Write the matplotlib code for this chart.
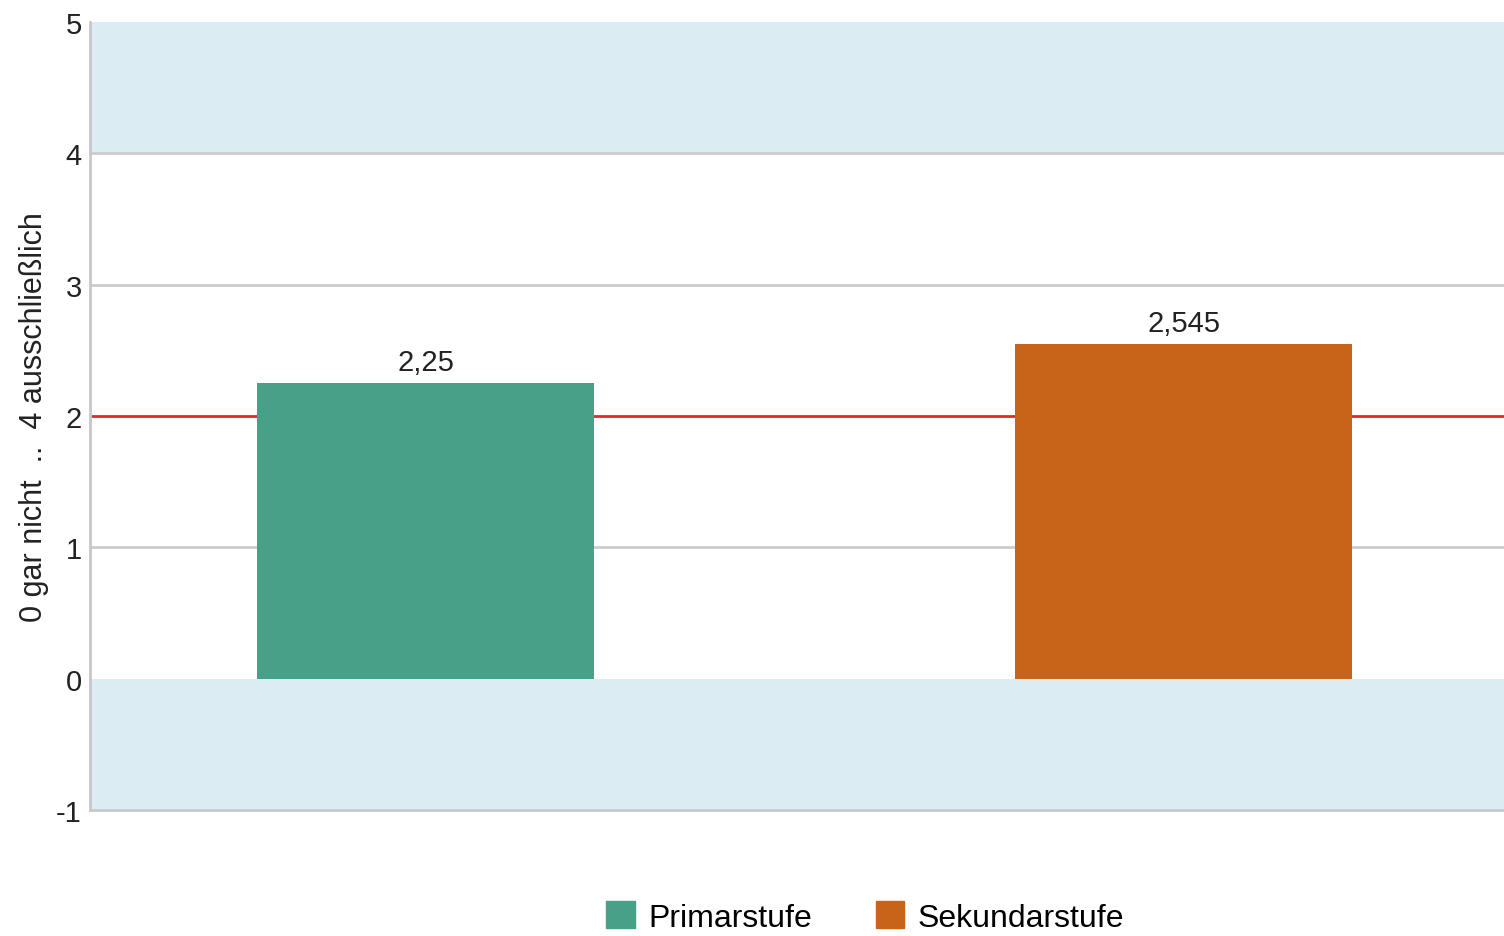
import matplotlib
matplotlib.use('Agg')
import matplotlib.pyplot as plt
import matplotlib.patches as mpatches

plt.rcParams['font.family'] = ['Liberation Sans', 'DejaVu Sans']

categories = ['Primarstufe', 'Sekundarstufe']
values = [2.25, 2.545]
value_labels = ['2,25', '2,545']
colors = ['#48a088', '#c86419']
yticks = [-1, 0, 1, 2, 3, 4, 5]
ref_line = 2
bands = [(4, 5), (-1, 0)]

BAND = '#dbecf2'
GRID = '#cccccc'
TXT = '#222222'

fig = plt.figure(figsize=(15.04, 9.37), dpi=100)
ax = fig.add_axes([90 / 1504, 1 - 811 / 937, 1 - 90 / 1504, (811 - 23) / 937])

for lo, hi in bands:
    ax.axhspan(lo, hi, color=BAND, lw=0, zorder=0)
for y in [1, 3, 4]:
    ax.axhline(y, color=GRID, lw=2, zorder=1)
ax.axhline(ref_line, color='#e8262a', lw=2, zorder=1)

x = list(range(len(categories)))
bars = ax.bar(x, values, width=0.4446, color=colors, zorder=2)
for b, lab in zip(bars, value_labels):
    ax.annotate(lab, (b.get_x() + b.get_width() / 2, b.get_height()),
                xytext=(0, 5), textcoords='offset points',
                ha='center', va='bottom', fontsize=21, color=TXT)

ax.set_xlim(-0.4426, 1.4228)
ax.set_ylim(-1, 5)
ax.set_yticks(yticks)
ax.set_yticklabels([str(t) for t in yticks], fontsize=21, color=TXT)
ax.set_xticks([])
ax.tick_params(axis='y', length=0, pad=6)
for s in ['top', 'right']:
    ax.spines[s].set_visible(False)
for s in ['left', 'bottom']:
    ax.spines[s].set_color('#c8c8c8')
    ax.spines[s].set_linewidth(2)
ax.set_ylabel('0 gar nicht  ..  4 ausschließlich', fontsize=22, color=TXT, labelpad=5)

handles = [mpatches.Patch(color=c, label=l) for c, l in zip(colors, categories)]
fig.legend(handles=handles, loc='center', bbox_to_anchor=(865 / 1504, 1 - 918 / 937),
           ncol=2, frameon=False, fontsize=23, handlelength=0.9, handleheight=0.9,
           handletextpad=0.4, columnspacing=2.0)

fig.savefig('out.png', dpi=100, facecolor='white')
